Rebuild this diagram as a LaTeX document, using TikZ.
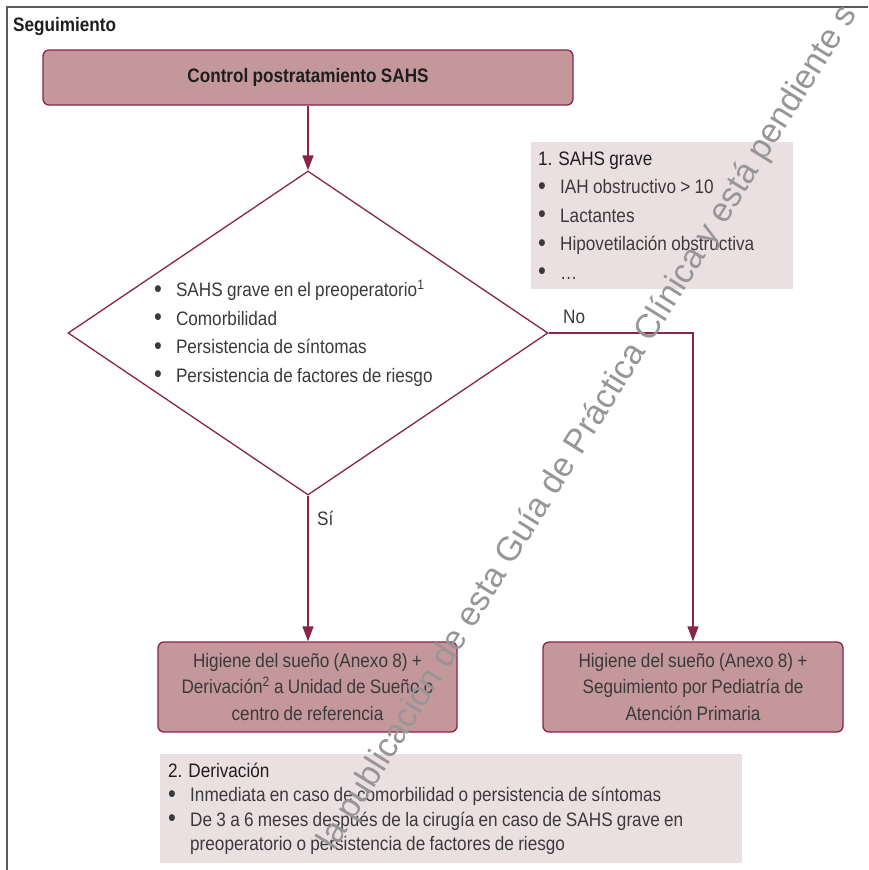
\documentclass[tikz,border=0pt]{standalone}
\usepackage{fontspec}
\setmainfont{Liberation Sans}[FakeStretch=0.88, WordSpace=0.9]
\newfontfamily\wmfont{Liberation Sans}
\usetikzlibrary{arrows.meta,shapes.geometric}
\definecolor{maroon}{RGB}{138,36,72}
\definecolor{boxfill}{RGB}{196,152,154}
\definecolor{notefill}{RGB}{235,224,225}
\definecolor{bodytxt}{RGB}{58,58,58}
\definecolor{headtxt}{RGB}{30,30,30}
\definecolor{framecol}{RGB}{90,90,90}
\definecolor{wmgray}{RGB}{150,150,150}
\newcommand{\itembul}{\makebox[22pt][l]{\raisebox{-0.6pt}{\scalebox{1.3}{•}}}}
\begin{document}
\begin{tikzpicture}[x=1pt,y=-1pt,
  procbox/.style={draw=maroon, line width=1.3pt, fill=boxfill, rounded corners=6pt, inner sep=0pt, align=center, text=bodytxt},
  notebox/.style={fill=notefill, inner ysep=0pt, align=flush left, text=bodytxt, anchor=north west},
  conn/.style={draw=maroon, line width=1.5pt, -{Triangle[length=15pt,width=11pt]}},
  lbl/.style={inner sep=0pt, text=bodytxt, font=\fontsize{19.5}{22}\selectfont},
]
\useasboundingbox (0,0) rectangle (868,870);
\draw[framecol, line width=2pt] (7,870) -- (7,7) -- (868,7);

\node[anchor=west, inner sep=0pt, text=headtxt, font=\bfseries\fontsize{19.5}{24}\selectfont] (title) at (13,27) {Seguimiento};

\node[procbox, minimum width=530pt, minimum height=55pt, text=headtxt, font=\bfseries\fontsize{19.5}{24}\selectfont] (ctrl) at (308,77.5) {Control postratamiento SAHS};

\node[draw=maroon, line width=1.3pt, shape=diamond, aspect=1.48, minimum width=480pt, minimum height=324pt, inner sep=0pt, text width=308pt, align=flush left, text=bodytxt, font=\fontsize{19.5}{28.4}\selectfont] (dec) at (308,333)
  {\itembul SAHS grave en el preoperatorio\textsuperscript{1}\\
   \itembul Comorbilidad\\
   \itembul Persistencia de síntomas\\
   \itembul Persistencia de factores de riesgo};

\node[notebox, minimum width=262pt, minimum height=147pt, text width=248pt, inner xsep=7pt, font=\fontsize{19.5}{28.5}\selectfont] (note1) at (531,142)
  {{\color{headtxt}1. SAHS grave}\\
   \itembul IAH obstructivo > 10\\
   \itembul Lactantes\\
   \itembul Hipovetilación obstructiva\\
   \itembul …};

\node[procbox, minimum width=299pt, minimum height=90pt, font=\fontsize{19.5}{26.5}\selectfont] (leftbox) at (307.5,687)
  {Higiene del sueño (Anexo 8) +\\ Derivación\textsuperscript{2} a Unidad de Sueño o\\ centro de referencia};
\node[procbox, minimum width=300pt, minimum height=90pt, font=\fontsize{19.5}{26.5}\selectfont] (rightbox) at (693,687)
  {Higiene del sueño (Anexo 8) +\\ Seguimiento por Pediatría de\\ Atención Primaria};

\node[notebox, minimum width=582pt, minimum height=109pt, text width=566pt, inner xsep=8pt, font=\fontsize{19.5}{24.5}\selectfont] (note2) at (160,754)
  {{\color{headtxt}2. Derivación}\\
   \itembul Inmediata en caso de comorbilidad o persistencia de síntomas\\
   \itembul De 3 a 6 meses después de la cirugía en caso de SAHS grave en\\
   \hspace*{22pt}preoperatorio o persistencia de factores de riesgo};

\draw[conn] (ctrl.south) -- (dec.north);
\draw[conn] (dec.south) -- (dec.south |- leftbox.north);
\draw[conn] (dec.east) -| (rightbox.north);

\node[lbl, anchor=west] (no) at (563,317) {No};
\node[lbl, anchor=west] (si) at (317,518) {Sí};

\node[rotate=58, anchor=base west, inner sep=0pt, text=wmgray, font=\wmfont\fontsize{34}{34}\selectfont] (wmark) at (334,852) {la publicación de esta Guía de Práctica Clínica y está pendiente s};
\end{tikzpicture}
\end{document}
